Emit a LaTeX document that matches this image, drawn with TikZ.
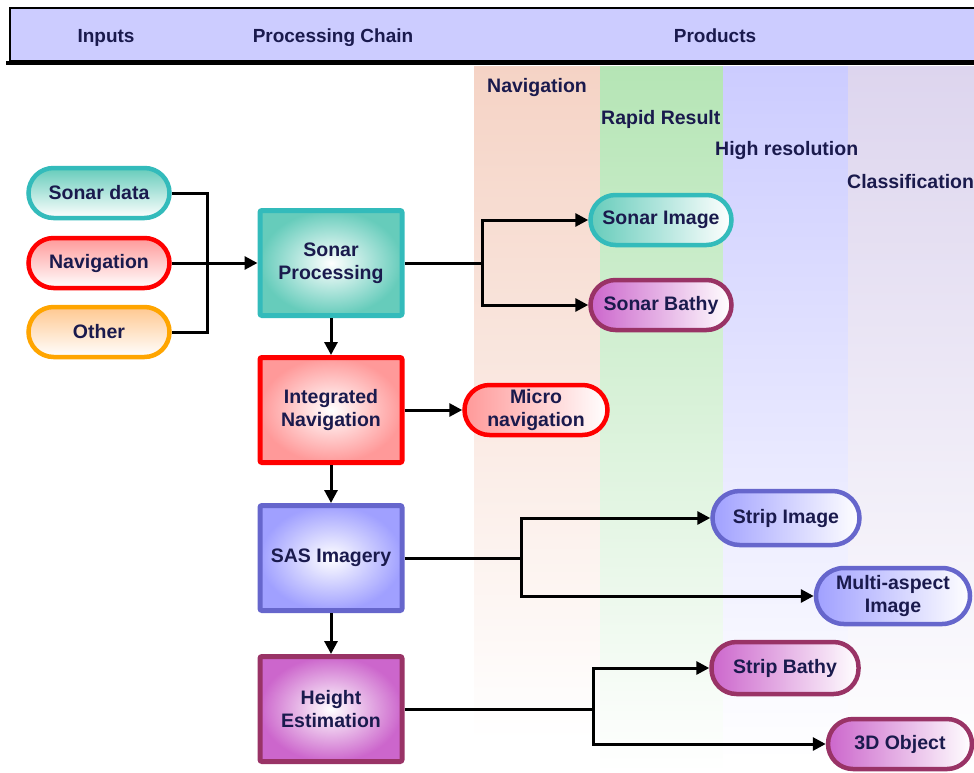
\documentclass[tikz,border=0pt]{standalone}
\usepackage{fontspec}
\setmainfont{Liberation Sans}
\usetikzlibrary{arrows.meta,shapes.misc}
\definecolor{txt}{HTML}{1A1A4D}
\definecolor{hdr}{HTML}{CCCCFF}
\definecolor{tealB}{HTML}{33BBBB}
\definecolor{tealF}{HTML}{66CCBB}
\definecolor{redB}{HTML}{FF0000}
\definecolor{redF}{HTML}{FF9999}
\definecolor{orB}{HTML}{FFA500}
\definecolor{orF}{HTML}{FFC890}
\definecolor{blB}{HTML}{6666CC}
\definecolor{blF}{HTML}{A0A0FF}
\definecolor{puB}{HTML}{993366}
\definecolor{puF}{HTML}{CC66CC}
\definecolor{cNav}{HTML}{F5D3C5}
\definecolor{cRap}{HTML}{B5E5B5}
\definecolor{cHig}{HTML}{CCCCFF}
\definecolor{cCla}{HTML}{DDD5EE}
\tikzset{
  lbl/.style={font=\fontsize{19.5}{23}\selectfont\bfseries, text=txt, align=center},
  pill/.style={lbl, rounded corners=25pt, line width=4.5pt, minimum width=141pt, minimum height=50pt, inner sep=0pt},
  vpill/.style={pill, draw=#1B, top color=#1F, bottom color=white},
  hpill/.style={pill, draw=#1B, left color=#1F, right color=white, shading angle=90},
  box/.style={lbl, rounded corners=2pt, line width=5pt, minimum width=142pt, minimum height=105pt, inner sep=0pt, draw=#1B, inner color=white, outer color=#1F},
  conn/.style={line width=3pt, black},
  arr/.style={conn, -{Triangle[length=13pt,width=13pt]}},
  collab/.style={font=\fontsize{19.5}{23}\selectfont\bfseries, text=txt, anchor=west, inner sep=0pt},
  hdrlab/.style={font=\fontsize{19}{22}\selectfont\bfseries, text=txt, anchor=base, inner sep=0pt}
}
\begin{document}
\begin{tikzpicture}[x=1pt,y=-1pt]
\useasboundingbox (0,0) rectangle (974,772);
% column backgrounds
\shade[top color=cNav, bottom color=white] (474,66) rectangle (600,740);
\shade[top color=cRap, bottom color=white] (600,66) rectangle (723,772);
\shade[top color=cHig, bottom color=white] (723,66) rectangle (848,760);
\shade[top color=cCla, bottom color=white] (848,66) rectangle (974,772);
% header
\draw[line width=4pt] (6,63) -- (980,63);
\draw[line width=2pt, fill=hdr] (10,8) rectangle (980,61);
\node[hdrlab] (hin) at (106,42) {Inputs};
\node[hdrlab] (hpc) at (333,42) {Processing Chain};
\node[hdrlab] (hpr) at (715,42) {Products};
% column labels
\node[collab] (lnav) at (487,87) {Navigation};
\node[collab] (lrap) at (601,119) {Rapid Result};
\node[collab] (lhig) at (715,150) {High resolution};
\node[collab] (lcla) at (847,182) {Classification};
% inputs
\node[vpill=teal] (sd) at (99,193) {Sonar data};
\node[vpill=red] (nav) at (99,263) {Navigation};
\node[vpill=or] (ot) at (99,332) {Other};
% processing chain
\node[box=teal] (sp) at (331,263) {Sonar\\Processing};
\node[box=red] (inav) at (331,410) {Integrated\\Navigation};
\node[box=bl] (sas) at (331,558) {SAS Imagery};
\node[box=pu] (he) at (331,709) {Height\\Estimation};
% products
\node[hpill=teal] (si) at (661,220) {Sonar Image};
\node[hpill=pu] (sb) at (661,305) {Sonar Bathy};
\node[hpill=red, minimum width=143pt] (mn) at (536,410) {Micro\\navigation};
\node[hpill=bl, minimum width=147pt, minimum height=54pt, rounded corners=27pt] (sti) at (786,518) {Strip Image};
\node[hpill=bl, minimum width=154pt, minimum height=56pt, rounded corners=28pt] (mai) at (893,596) {Multi-aspect\\Image};
\node[hpill=pu, minimum width=147pt, minimum height=52pt] (stb) at (785,668) {Strip Bathy};
\node[hpill=pu, minimum width=144pt, minimum height=50pt] (obj) at (900,744) {3D Object};
% connectors
\coordinate (j) at (207,263);
\draw[conn] (sd.east) -| (j) |- (ot.east);
\draw[arr] (nav.east) -- (sp.west);
\draw[arr] (sp.south) -- (inav.north);
\draw[arr] (inav.south) -- (sas.north);
\draw[arr] (sas.south) -- (he.north);
\coordinate (s1) at (482,263);
\draw[conn] (sp.east) -- (s1);
\draw[arr] (s1) |- (si.west);
\draw[arr] (s1) |- (sb.west);
\draw[arr] (inav.east) -- (mn.west);
\coordinate (s2) at (521,558);
\draw[conn] (sas.east) -- (s2);
\draw[arr] (s2) |- (sti.west);
\draw[arr] (s2) |- (mai.west);
\coordinate (s3) at (593,709);
\draw[conn] (he.east) -- (s3);
\draw[arr] (s3) |- (stb.west);
\draw[arr] (s3) |- (obj.west);
\end{tikzpicture}
\end{document}
